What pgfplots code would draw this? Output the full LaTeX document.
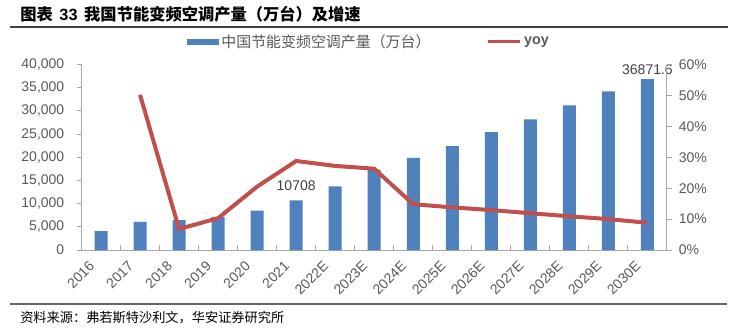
\documentclass[border=0pt]{standalone}
\usepackage{fontspec}
\setmainfont{Liberation Sans}
\newfontfamily\cjk{Noto Sans CJK SC}
\usepackage{pgfplots}
\pgfplotsset{compat=1.18}
\definecolor{barblue}{HTML}{4F81BD}
\definecolor{linered}{HTML}{C0504D}
\definecolor{txtgray}{HTML}{595959}
\definecolor{lblgray}{HTML}{404040}
\definecolor{axgray}{HTML}{A6A6A6}
\begin{document}
\begin{tikzpicture}
\path[use as bounding box] (0,0) rectangle (553.5pt,-246.75pt);
\node[anchor=west, inner sep=0pt] at (15pt,-10.5pt) {\fontsize{12.2pt}{14pt}\selectfont\cjk\bfseries 图表\hspace{5pt}{\normalfont\bfseries 33}\hspace{5pt}我国节能变频空调产量（万台）及增速};
\draw[line width=1.1pt, black!75] (7.5pt,-20.25pt) -- (546pt,-20.25pt);
\draw[line width=1.1pt, black!60] (7.5pt,-228pt) -- (545.25pt,-228pt);
\node[anchor=west, inner sep=0pt] at (15pt,-238.5pt) {\fontsize{9.9pt}{12pt}\selectfont\cjk 资料来源：弗若斯特沙利文，华安证券研究所};

\begin{axis}[
  at={(61.125pt,-187.5pt)}, anchor=south west,
  scale only axis, width=439.1pt, height=139.1pt,
  xmin=-0.5, xmax=14.5, ymin=0, ymax=40000,
  axis y line*=left, axis x line*=bottom,
  x axis line style={-}, y axis line style={-},
  axis line style={axgray, line width=0.75pt},
  tick align=outside,
  xtick={0,...,14},
  xticklabels={2016,2017,2018,2019,2020,2021,2022E,2023E,2024E,2025E,2026E,2027E,2028E,2029E,2030E},
  major x tick style={draw=none},
  minor xtick={0.5,1.5,...,13.5},
  minor tick length=3.75pt,
  minor x tick style={axgray, line width=0.75pt, yshift=3.75pt},
  ytick={0,5000,...,40000},
  major tick length=3.4pt,
  y tick style={axgray, line width=0.75pt},
  scaled y ticks=false,
  /pgf/number format/.cd, 1000 sep={,}, assume math mode=true, /pgfplots/.cd,
  ticklabel style={font=\fontsize{10.5pt}{12pt}\selectfont, text=txtgray},
  yticklabel style={xshift=-6pt},
  xticklabel style={xshift=-4.5pt, yshift=-4.5pt, rotate=45, anchor=east},
  clip=false,
]
\addplot[ybar, bar width=9.75pt, fill=barblue, draw=none] coordinates {
(0,4050) (1,6050) (2,6450) (3,7150) (4,8500) (5,10708) (6,13750) (7,17350)
(8,19850) (9,22400) (10,25400) (11,28200) (12,31200) (13,34200) (14,36871.6)};
\addplot[draw=none, mark=none, point meta=explicit symbolic, nodes near coords,
  nodes near coords style={font=\fontsize{10.5pt}{12pt}\selectfont, text=lblgray, anchor=south, yshift=3.5pt}]
  coordinates {(5,10708) [10708]};
\addplot[draw=none, mark=none, point meta=explicit symbolic, nodes near coords,
  nodes near coords style={font=\fontsize{10.5pt}{12pt}\selectfont, text=lblgray, anchor=south, yshift=-0.5pt}]
  coordinates {(14,36871.6) [36871.6]};
\end{axis}

\begin{axis}[
  at={(61.125pt,-187.5pt)}, anchor=south west,
  scale only axis, width=439.1pt, height=139.1pt,
  xmin=-0.5, xmax=14.5, ymin=0, ymax=60,
  hide x axis,
  axis y line*=right,
  y axis line style={-},
  axis line style={axgray, line width=0.75pt},
  tick align=outside,
  ytick={0,10,...,60},
  major tick length=3.4pt,
  y tick style={axgray, line width=0.75pt},
  yticklabel={\pgfmathprintnumber{\tick}\%},
  /pgf/number format/assume math mode=true,
  ticklabel style={font=\fontsize{10.5pt}{12pt}\selectfont, text=txtgray},
  yticklabel style={xshift=2pt},
  clip=false,
  legend style={at={(0.1796,1.123)}, anchor=west, draw=none, fill=none, inner sep=0pt,
     legend columns=2, font=\fontsize{11.2pt}{12pt}\selectfont, text=txtgray,
     /tikz/every even column/.append style={column sep=40pt}},
]
\addlegendimage{legend image code/.code={\fill[barblue] (0pt,-2.1pt) rectangle (23.5pt,2.1pt);}}
\addlegendentry{\cjk 中国节能变频空调产量（万台）}
\addplot[linered, line width=3pt, mark=none,
  legend image code/.code={\draw[linered, line width=2.2pt] (0pt,0pt) -- (24pt,0pt);}] coordinates {
(1,50.2) (2,6.8) (3,10.3) (4,20.5) (5,28.8) (6,27.2) (7,26.3) (8,14.8)
(9,13.8) (10,12.9) (11,11.9) (12,10.9) (13,10.0) (14,8.8)};
\addlegendentry{\fontsize{10.8pt}{12pt}\selectfont\textbf{yoy}}
\end{axis}
\end{tikzpicture}
\end{document}
